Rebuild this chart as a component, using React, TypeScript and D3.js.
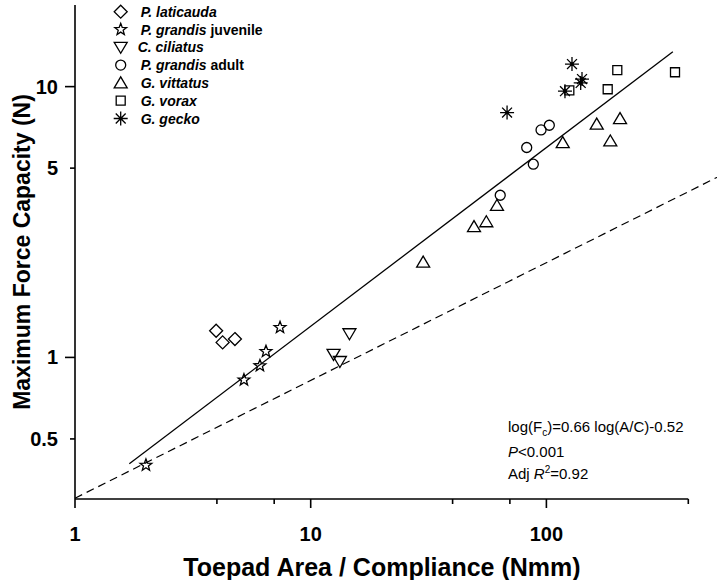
import React from "react";
import * as d3 from "d3";

// ---------- data ----------
const laticauda: [number, number][] = [[3.97, 1.254], [4.23, 1.136], [4.77, 1.169]];
const grandisJuv: [number, number][] = [[7.41, 1.29], [6.46, 1.052], [6.09, 0.932], [5.21, 0.826], [2.0, 0.4]];
const ciliatus: [number, number][] = [[14.6, 1.223], [12.5, 1.026], [13.3, 0.966]];
const grandisAdult: [number, number][] = [[63.7, 3.97], [88.0, 5.17], [82.5, 5.96], [94.9, 6.92], [102.9, 7.2]];
const vittatus: [number, number][] = [[30.0, 2.249], [49.3, 3.04], [55.6, 3.17], [61.7, 3.64], [117.3, 6.21], [163.5, 7.27], [186.7, 6.3], [205.3, 7.62]];
const vorax: [number, number][] = [[125.1, 9.68], [182, 9.78], [199.9, 11.5], [351.3, 11.3]];
const gecko: [number, number][] = [[68.1, 8.02], [119.9, 9.62], [128.4, 12.11], [141.6, 10.66], [139.8, 10.32]];

const seriesNames = ["P. laticauda", "P. grandis", "C. ciliatus", "P. grandis", "G. vittatus", "G. vorax", "G. gecko"];
const seriesSuffix = ["", " juvenile", "", " adult", "", "", ""];
const seriesSymbols = ["diamond", "star", "triDown", "circle", "triUp", "square", "asterisk"];
const seriesData = [laticauda, grandisJuv, ciliatus, grandisAdult, vittatus, vorax, gecko];

const xMajorTicks = [1, 10, 100];
const xMinorTicks = [4, 7, 40, 70, 400];
const yMajorTicks = [1, 10];
const yMinorTicks = [0.5, 5];
const yTickLabels = [0.5, 1, 5, 10];
const xDomain: [number, number] = [1, 400];
const yDomain: [number, number] = [0.3, 20];

// fitted line: log(F) = slope*log(x) + intercept, drawn over fit range
const fitSlope = 0.66;
const fitIntercept = -0.545;
const fitRange: [number, number] = [1.7, 344];
// dashed reference line
const refSlope = 0.435;
const refIntercept = -0.52;
const refRange: [number, number] = [1, 600];

const annotationLines = ["log(F", "P", "Adj R"];

// ---------- layout ----------
const W = 717;
const H = 580;
const FONT = "'Liberation Sans', Arial, Helvetica, sans-serif";

function symbolPath(type: string): string {
  switch (type) {
    case "diamond":
      return "M0,-6.5L6.5,0L0,6.5L-6.5,0Z";
    case "star": {
      const pts: string[] = [];
      for (let i = 0; i < 10; i++) {
        const r = i % 2 === 0 ? 6.2 : 2.6;
        const a = -Math.PI / 2 + (i * Math.PI) / 5;
        pts.push(`${(r * Math.cos(a)).toFixed(2)},${(r * Math.sin(a)).toFixed(2)}`);
      }
      return "M" + pts.join("L") + "Z";
    }
    case "triDown":
      return "M-6.5,-5L6.5,-5L0,6Z";
    case "triUp":
      return "M-6.5,5L6.5,5L0,-6Z";
    case "circle":
      return "M5,0A5,5 0 1,1 -5,0A5,5 0 1,1 5,0Z";
    case "square":
      return "M-4.5,-4.5L4.5,-4.5L4.5,4.5L-4.5,4.5Z";
    case "asterisk": {
      const r = 7;
      const d = r * Math.SQRT1_2;
      return `M0,${-r}L0,${r}M${-r},0L${r},0M${-d},${-d}L${d},${d}M${-d},${d}L${d},${-d}`;
    }
  }
  return "";
}

function Marker({ type, x, y }: { type: string; x: number; y: number }) {
  return (
    <g transform={`translate(${x},${y})`}>
      <path d={symbolPath(type)} fill="none" stroke="#000" strokeWidth={1.3} strokeLinejoin="miter" />
      {type === "asterisk" && <circle r={1.8} fill="#000" />}
    </g>
  );
}

export default function App() {
  const x = d3.scaleLog().domain(xDomain).range([75, 688.3]);
  const y = d3.scaleLog().domain(yDomain).range([499, 5.1]);

  const lineGen = d3
    .line<number>()
    .x((v) => x(v))
    .y((v) => y(Math.pow(10, fitSlope * Math.log10(v) + fitIntercept)));
  const refGen = d3
    .line<number>()
    .x((v) => x(v))
    .y((v) => y(Math.pow(10, refSlope * Math.log10(v) + refIntercept)));

  const [x0, x1] = x.range();
  const [yb, yt] = y.range();

  return (
    <svg
      width={W}
      height={H}
      style={{ position: "absolute", left: 0, top: 0, background: "#fff" }}
      fontFamily={FONT}
    >
      <rect width={W} height={H} fill="#fff" />
      {/* reference dashed line */}
      <path d={refGen(refRange) || ""} fill="none" stroke="#000" strokeWidth={1.2} strokeDasharray="8,5" />
      {/* fit line */}
      <path d={lineGen(fitRange) || ""} fill="none" stroke="#000" strokeWidth={1.3} />

      {/* axes */}
      <line x1={x0} x2={x1} y1={yb} y2={yb} stroke="#000" strokeWidth={1.6} />
      <line x1={x0} x2={x0} y1={yb} y2={yt} stroke="#000" strokeWidth={1.6} />
      {xMajorTicks.map((t) => (
        <line key={"xM" + t} x1={x(t)} x2={x(t)} y1={yb} y2={yb + 9} stroke="#000" strokeWidth={1.6} />
      ))}
      {xMinorTicks.map((t) => (
        <line key={"xm" + t} x1={x(t)} x2={x(t)} y1={yb} y2={yb + 5} stroke="#000" strokeWidth={1.6} />
      ))}
      {yMajorTicks.map((t) => (
        <line key={"yM" + t} x1={x0 - 10} x2={x0} y1={y(t)} y2={y(t)} stroke="#000" strokeWidth={1.6} />
      ))}
      {yMinorTicks.map((t) => (
        <line key={"ym" + t} x1={x0 - 5} x2={x0} y1={y(t)} y2={y(t)} stroke="#000" strokeWidth={1.6} />
      ))}
      {xMajorTicks.map((t) => (
        <text key={"xl" + t} x={x(t)} y={541} textAnchor="middle" fontSize={20} fontWeight="bold">
          {String(t)}
        </text>
      ))}
      {yTickLabels.map((t) => (
        <text key={"yl" + t} x={58} y={y(t) + 7} textAnchor="end" fontSize={20} fontWeight="bold">
          {String(t)}
        </text>
      ))}
      <text x={382} y={576} textAnchor="middle" fontSize={25} fontWeight="bold">
        Toepad Area / Compliance (Nmm)
      </text>
      <text transform="translate(30,252) rotate(-90)" textAnchor="middle" fontSize={23} fontWeight="bold">
        Maximum Force Capacity (N)
      </text>

      {/* data */}
      {seriesData.map((s, i) =>
        s.map((p, j) => <Marker key={i + "-" + j} type={seriesSymbols[i]} x={x(p[0])} y={y(p[1])} />)
      )}

      {/* legend */}
      {seriesNames.map((n, i) => (
        <g key={"lg" + i}>
          <Marker type={seriesSymbols[i]} x={120.7} y={11.7 + i * 17.8} />
          <text x={i === 2 ? 137.7 : 140.7} y={11.7 + i * 17.8 + 5} fontSize={14} fontWeight="bold">
            <tspan fontStyle="italic">{n}</tspan>
            {seriesSuffix[i] && <tspan>{seriesSuffix[i]}</tspan>}
          </text>
        </g>
      ))}

      {/* annotation */}
      <text x={508} y={432} fontSize={15}>
        {annotationLines[0]}
        <tspan fontSize={10} dy={4}>c</tspan>
        <tspan dy={-4}>)=0.66 log(A/C)-0.52</tspan>
      </text>
      <text x={508} y={457} fontSize={15}>
        <tspan fontStyle="italic">{annotationLines[1]}</tspan>
        <tspan>&lt;0.001</tspan>
      </text>
      <text x={508} y={479} fontSize={15}>
        {annotationLines[2].replace("R", "")}
        <tspan fontStyle="italic">R</tspan>
        <tspan fontSize={10} dy={-6}>2</tspan>
        <tspan dy={6}>=0.92</tspan>
      </text>
    </svg>
  );
}
